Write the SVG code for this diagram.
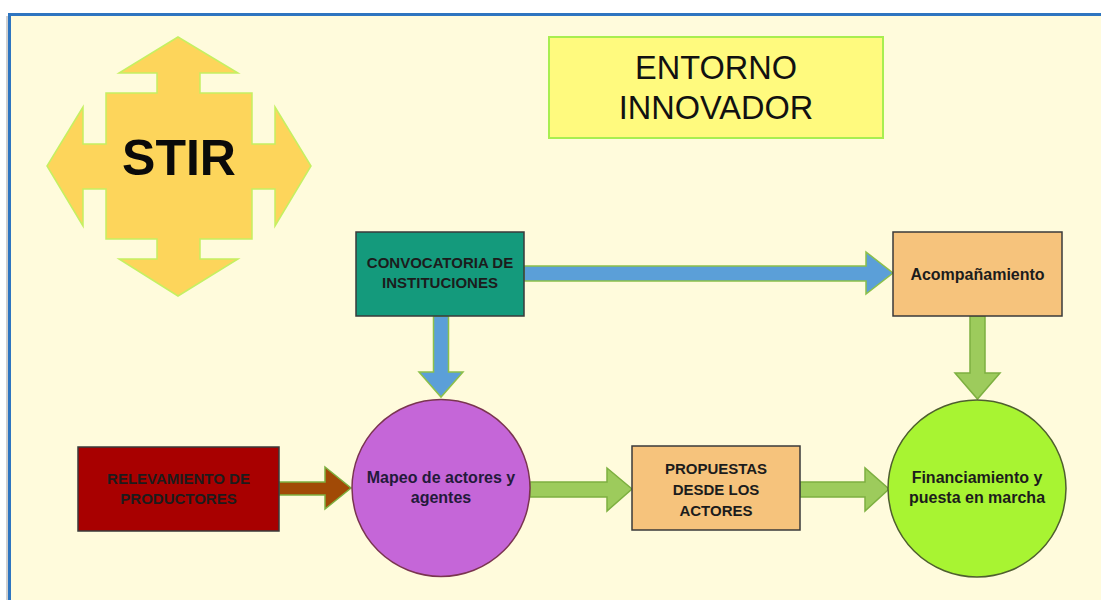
<svg xmlns="http://www.w3.org/2000/svg" width="1101" height="600" viewBox="0 0 1101 600">
<defs>
<style>
.box{stroke:#3a3a3a;stroke-width:1.5}
.t{font-family:"Liberation Sans",Arial,sans-serif;font-weight:bold;text-anchor:middle;fill:#1c1c1c}
.up{font-size:15px}
.mx{font-size:16px}
.big{font-family:"Liberation Sans",Arial,sans-serif;font-size:32.5px;text-anchor:middle;fill:#111}
.arr{stroke-width:1.5;stroke-linejoin:miter}
</style>
</defs>
<rect x="0" y="0" width="1101" height="600" fill="#ffffff"/>
<rect x="6" y="16" width="3" height="590" fill="#d0d0d0"/>
<rect x="9.5" y="14.5" width="1100" height="600" fill="#FFFBDC" stroke="#2E75C0" stroke-width="3"/>

<g id="stir">
<polygon points="178,37 238,73 200,73 200,93 252,93 252,144 275,144 275,107 311,166 275,226 275,189 252,189 252,239 200,239 200,259 238,259 178,296 119,259 157,259 157,239 106,239 106,189 83,189 83,226 47,166 83,107 83,144 106,144 106,93 157,93 157,73 119,73" fill="#FDD55B" stroke="#C5F062" stroke-width="1.5"/>
<text class="t" x="179" y="175" style="font-size:50px;fill:#0a0a0a">STIR</text>
</g>

<g id="entorno">
<rect x="549" y="37" width="334" height="101" fill="#FFFA7E" stroke="#A8EE50" stroke-width="2"/>
<text class="big" x="716" y="79">ENTORNO</text>
<text class="big" x="716" y="119">INNOVADOR</text>
</g>

<g id="connectors">
<polygon class="arr" points="524,266 866,266 866,252 893,273 866,294 866,281 524,281" fill="#5B9FD8" stroke="#8CC04A"/>
<polygon class="arr" points="433.5,316 448.5,316 448.5,372 463,372 441,397 419,372 433.5,372" fill="#5B9FD8" stroke="#8CC04A"/>
<polygon class="arr" points="970,316 985,316 985,373 1000,373 977.5,399 955,373 970,373" fill="#9DCB5C" stroke="#7DB040"/>
<polygon class="arr" points="279,482 325,482 325,467 351,488 325,509 325,495 279,495" fill="#A14A06" stroke="#7DB040"/>
<polygon class="arr" points="530,482 607,482 607,468 632,489 607,511 607,497 530,497" fill="#9DCB5C" stroke="#7DB040"/>
<polygon class="arr" points="800,482 865,482 865,468 889,489 865,511 865,497 800,497" fill="#9DCB5C" stroke="#7DB040"/>
</g>

<g id="convocatoria">
<rect class="box" x="356" y="232" width="168" height="84" fill="#149A7C"/>
<text class="t up" x="440" y="268">CONVOCATORIA DE</text>
<text class="t up" x="440" y="288">INSTITUCIONES</text>
</g>

<g id="acompanamiento">
<rect class="box" x="893" y="232" width="169" height="84" fill="#F6C37C"/>
<text class="t mx" x="977.5" y="280">Acompañamiento</text>
</g>

<g id="relevamiento">
<rect class="box" x="78" y="447" width="201" height="84" fill="#A80000"/>
<text class="t up" x="178.5" y="484">RELEVAMIENTO DE</text>
<text class="t up" x="178.5" y="504">PRODUCTORES</text>
</g>

<g id="mapeo">
<ellipse cx="441" cy="488" rx="89" ry="88.5" fill="#C566D8" stroke="#7A3550" stroke-width="1.5"/>
<text class="t mx" x="441" y="483" style="fill:#231a3a">Mapeo de actores y</text>
<text class="t mx" x="441" y="503" style="fill:#231a3a">agentes</text>
</g>

<g id="propuestas">
<rect class="box" x="632" y="446" width="168" height="84" fill="#F6C37C"/>
<text class="t up" x="716" y="474">PROPUESTAS</text>
<text class="t up" x="716" y="495">DESDE LOS</text>
<text class="t up" x="716" y="516">ACTORES</text>
</g>

<g id="financiamiento">
<ellipse cx="977" cy="488.5" rx="89" ry="88.5" fill="#A8F432" stroke="#4F5F2F" stroke-width="1.5"/>
<text class="t mx" x="977" y="483">Financiamiento y</text>
<text class="t mx" x="977" y="503">puesta en marcha</text>
</g>
</svg>
